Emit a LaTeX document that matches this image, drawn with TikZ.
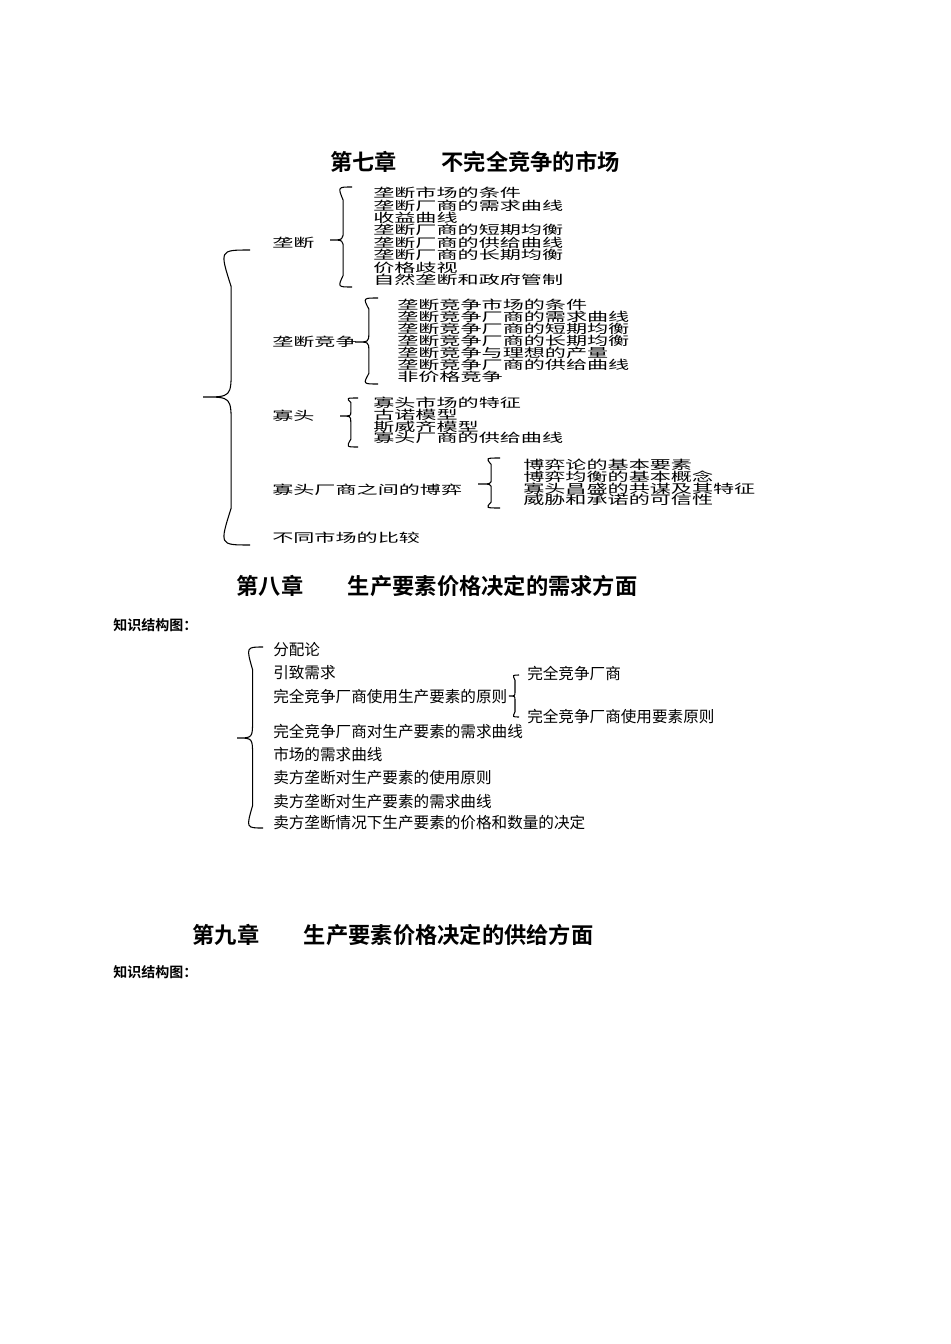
\documentclass[tikz,border=0pt]{standalone}
\usepackage{fontspec}
\setmainfont{Noto Sans CJK SC}
\newfontfamily\cjkb{Noto Sans CJK SC Bold}
\tikzset{
 sq/.style={anchor=west,inner sep=0pt,font=\fontsize{14pt}{14pt}\selectfont,yscale=0.66,xscale=1.13,transform shape},
 it/.style={anchor=west,inner sep=0pt,font=\fontsize{11.7pt}{11.7pt}\selectfont},
 ttl/.style={inner sep=0pt,font=\cjkb\fontsize{16.7pt}{16.7pt}\selectfont},
 sub/.style={anchor=west,inner sep=0pt,font=\cjkb\fontsize{10.5pt}{10.5pt}\selectfont},
 br/.style={line width=0.8pt}
}
\newcommand{\mybrace}[5]{% right x, top y, bottom y, tip x, tip y
 \draw[br] (#1,#2) .. controls ({#4+(#1-#4)*0.35},#2) .. ({#4+(#1-#4)*0.6},{#2+0.25*(#5-#2)})
  -- ({#4+(#1-#4)*0.6},{#5-0.2*(#5-#2)}) .. controls ({#4+(#1-#4)*0.6},#5) .. (#4,#5)
  .. controls ({#4+(#1-#4)*0.6},#5) .. ({#4+(#1-#4)*0.6},{#5+0.2*(#3-#5)})
  -- ({#4+(#1-#4)*0.6},{#3-0.25*(#3-#5)}) .. controls ({#4+(#1-#4)*0.35},#3) .. (#1,#3);}
\begin{document}
\begin{tikzpicture}[x=0.75pt,y=-0.75pt]
\useasboundingbox (0,0) rectangle (950,1344);
\node[ttl] (t7) at (475,162) {第七章\hspace{2em}不完全竞争的市场};
\mybrace{250}{250}{545}{203}{397}
\node[sq] (a) at (272,243) {垄断};
\mybrace{352}{187}{287}{330}{240}
\foreach \t [count=\i] in {垄断市场的条件,垄断厂商的需求曲线,收益曲线,垄断厂商的短期均衡,垄断厂商的供给曲线,垄断厂商的长期均衡,价格歧视,自然垄断和政府管制}
 \node[sq] (a\i) at (373,{193+12.4*(\i-1)}) {\t};
\node[sq] (b) at (272,342) {垄断竞争};
\mybrace{378}{298}{384}{355}{342}
\foreach \t [count=\i] in {垄断竞争市场的条件,垄断竞争厂商的需求曲线,垄断竞争厂商的短期均衡,垄断竞争厂商的长期均衡,垄断竞争与理想的产量,垄断竞争厂商的供给曲线,非价格竞争}
 \node[sq] (b\i) at (397,{305+12*(\i-1)}) {\t};
\node[sq] (c) at (272,416) {寡头};
\mybrace{358}{398}{447}{340}{416}
\foreach \t [count=\i] in {寡头市场的特征,古诺模型,斯威齐模型,寡头厂商的供给曲线}
 \node[sq] (c\i) at (373,{403+11.7*(\i-1)}) {\t};
\node[sq] (d) at (272,490) {寡头厂商之间的博弈};
\mybrace{500}{458}{508}{478}{484}
\foreach \t [count=\i] in {博弈论的基本要素,博弈均衡的基本概念,寡头昌盛的共谋及其特征,威胁和承诺的可信性}
 \node[sq] (d\i) at (523,{465+11.7*(\i-1)}) {\t};
\node[sq] (e) at (272,538) {不同市场的比较};
\node[ttl] (t8) at (437,586) {第八章\hspace{2em}生产要素价格决定的需求方面};
\node[sub] (s8) at (113,625) {知识结构图：};
\mybrace{263}{647}{828}{237}{738}
\foreach \t/\y [count=\i] in {分配论/650,引致需求/673,完全竞争厂商使用生产要素的原则/697,完全竞争厂商对生产要素的需求曲线/732,市场的需求曲线/755,卖方垄断对生产要素的使用原则/778,卖方垄断对生产要素的需求曲线/802,卖方垄断情况下生产要素的价格和数量的决定/823}
 \node[it] (f\i) at (273,\y) {\t};
\mybrace{519}{675}{717}{509}{696}
\node[it] (g1) at (527,673) {完全竞争厂商};
\node[it] (g2) at (527,717) {完全竞争厂商使用要素原则};
\node[ttl] (t9) at (393,935) {第九章\hspace{2em}生产要素价格决定的供给方面};
\node[sub] (s9) at (113,972) {知识结构图：};
\end{tikzpicture}
\end{document}
